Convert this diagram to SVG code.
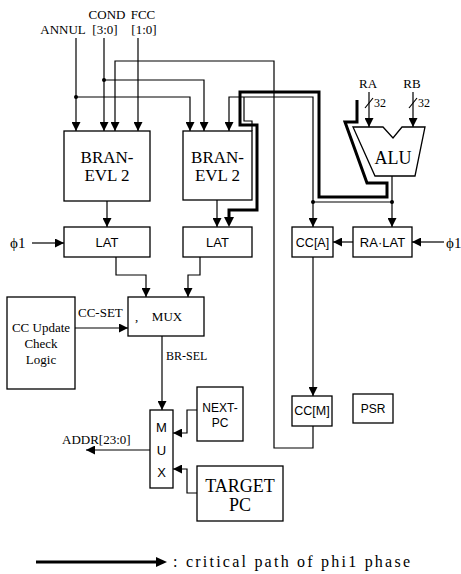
<svg xmlns="http://www.w3.org/2000/svg" width="461" height="574" viewBox="0 0 461 574">
<defs>
<marker id="ah" viewBox="0 0 10 10" refX="10" refY="5" markerWidth="10" markerHeight="9" markerUnits="userSpaceOnUse" orient="auto"><path d="M0,0 L10,5 L0,10 z" fill="#000"/></marker>
</defs>
<style>
.box{fill:#fff;stroke:#000;stroke-width:1.3}
.ln{fill:none;stroke:#000;stroke-width:1.2}
.arr{marker-end:url(#ah)}
.thick{fill:none;stroke:#000;stroke-width:3;stroke-linejoin:miter}
.dot{fill:#000}
.sf{font-family:"Liberation Serif","Times New Roman",serif;fill:#000}
.ss{font-family:"Liberation Sans",Arial,sans-serif;fill:#000}
.c{text-anchor:middle}
</style>
<rect width="461" height="574" fill="#fff"/>

<g id="connectors">
  <path class="ln arr" d="M76,38 V131"/>
  <path class="ln arr" d="M76,97 H190 V131"/>
  <path class="ln arr" d="M104,38 V131"/>
  <path class="ln arr" d="M104,80 H204 V131"/>
  <path class="ln arr" d="M138,38 V131"/>
  <path class="ln arr" d="M313,426 V448 H274 V61 H115 V131"/>
  <path class="ln arr" d="M313,202 V97 H229 V131"/>
  <path class="ln" d="M392,176 V202 M313,202 H392"/>
  <path class="ln arr" d="M313,202 V227"/>
  <path class="ln arr" d="M392,202 V227"/>
  <path class="ln" d="M244,97 V121 H252 V131"/>
  <path class="thick" d="M357,100 V122 H345 L367,183 H387 V197 H319 V92 H240 V125 H257 V210 H229 V218"/>
  <path d="M224,217 L229,227 L234,217 Z" fill="#000"/>
  <path class="ln arr" d="M107,201 V227"/>
  <path class="ln arr" d="M217,200 V227"/>
  <path class="ln arr" d="M116,257 V275 H146 V297"/>
  <path class="ln arr" d="M200,257 V275 H188 V297"/>
  <path class="ln arr" d="M32,243 H64"/>
  <path class="ln arr" d="M444,242 H412"/>
  <path class="ln arr" d="M353,242 H333"/>
  <path class="ln arr" d="M313,257 V396"/>
  <path class="ln arr" d="M75,328 H128"/>
  <path class="ln arr" d="M162,336 V410"/>
  <path class="ln arr" d="M197,410 H187 V433 H173"/>
  <path class="ln arr" d="M197,493 H187 V469 H173"/>
  <path class="ln arr" d="M150,450 H86"/>
  <path class="ln arr" d="M369,92 V127"/>
  <path class="ln arr" d="M413,92 V127"/>
  <path class="ln" d="M365,108 L373,98 M409,108 L417,98"/>
  <circle class="dot" cx="76" cy="97" r="2"/>
  <circle class="dot" cx="104" cy="80" r="2"/>
  <circle class="dot" cx="313" cy="202" r="2"/>
  <circle class="dot" cx="392" cy="202" r="2"/>
</g>

<g id="labels-top">
  <text class="sf c" x="107" y="19" font-size="13">COND</text>
  <text class="sf c" x="143" y="19" font-size="13">FCC</text>
  <text class="sf c" x="63" y="34" font-size="13">ANNUL</text>
  <text class="sf c" x="105" y="34" font-size="13">[3:0]</text>
  <text class="sf c" x="144" y="34" font-size="13">[1:0]</text>
  <text class="sf c" x="368" y="88" font-size="13">RA</text>
  <text class="sf c" x="412" y="88" font-size="13">RB</text>
  <text class="sf" x="374" y="107" font-size="12">32</text>
  <text class="sf" x="418" y="107" font-size="12">32</text>
</g>

<g id="bran1">
  <rect class="box" x="64" y="131" width="86" height="70"/>
  <text class="sf c" x="107" y="163" font-size="17">BRAN-</text>
  <text class="sf c" x="107" y="181" font-size="17">EVL 2</text>
</g>
<g id="bran2">
  <rect class="box" x="183" y="131" width="69" height="69"/>
  <text class="sf c" x="217.5" y="163" font-size="17">BRAN-</text>
  <text class="sf c" x="217.5" y="181" font-size="17">EVL 2</text>
</g>
<g id="alu">
  <path class="box" d="M353,127 H383 L393,138 L402,127 H425 L415,176 H375 Z"/>
  <text class="sf c" x="393" y="164" font-size="18">ALU</text>
</g>
<g id="lat1">
  <rect class="box" x="64" y="227" width="86" height="30"/>
  <text class="ss c" x="107" y="247" font-size="13">LAT</text>
</g>
<g id="lat2">
  <rect class="box" x="183" y="227" width="69" height="30"/>
  <text class="ss c" x="217.5" y="247" font-size="13">LAT</text>
</g>
<g id="phi-left">
  <text class="sf" x="10" y="248" font-size="15">ϕ1</text>
</g>
<g id="cca">
  <rect class="box" x="292" y="227" width="41" height="30"/>
  <text class="ss c" x="312.5" y="247" font-size="12.5">CC[A]</text>
</g>
<g id="ralat">
  <rect class="box" x="353" y="227" width="59" height="30"/>
  <text class="ss c" x="382.5" y="247" font-size="13">RA·LAT</text>
</g>
<g id="phi-right">
  <text class="sf" x="446" y="248" font-size="15">ϕ1</text>
</g>
<g id="mux">
  <rect class="box" x="128" y="297" width="76" height="39"/>
  <text class="sf" x="135" y="321" font-size="13">,</text>
  <text class="sf c" x="167" y="321" font-size="13">MUX</text>
</g>
<g id="ccupdate">
  <rect class="box" x="7" y="297" width="68" height="92"/>
  <text class="sf c" x="41" y="332" font-size="13">CC Update</text>
  <text class="sf c" x="41" y="348" font-size="13">Check</text>
  <text class="sf c" x="41" y="364" font-size="13">Logic</text>
</g>
<g id="conn-labels">
  <text class="sf" x="78" y="317" font-size="13">CC-SET</text>
  <text class="sf" x="166" y="360" font-size="12">BR-SEL</text>
  <text class="sf" x="62" y="444" font-size="13">ADDR[23:0]</text>
</g>
<g id="mux2">
  <rect class="box" x="150" y="410" width="23" height="78"/>
  <text class="ss c" x="161.5" y="432" font-size="13">M</text>
  <text class="ss c" x="161.5" y="455" font-size="13">U</text>
  <text class="ss c" x="161.5" y="477" font-size="13">X</text>
</g>
<g id="nextpc">
  <rect class="box" x="197" y="387" width="46" height="54"/>
  <text class="ss c" x="220" y="412" font-size="12">NEXT-</text>
  <text class="ss c" x="220" y="427" font-size="12">PC</text>
</g>
<g id="targetpc">
  <rect class="box" x="197" y="466" width="86" height="55"/>
  <text class="sf c" x="240" y="492" font-size="18">TARGET</text>
  <text class="sf c" x="240" y="511" font-size="18">PC</text>
</g>
<g id="ccm">
  <rect class="box" x="292" y="396" width="40" height="30"/>
  <text class="ss c" x="312" y="415" font-size="12.5">CC[M]</text>
</g>
<g id="psr">
  <rect class="box" x="353" y="394" width="40" height="29"/>
  <text class="ss c" x="373" y="413" font-size="12">PSR</text>
</g>
<g id="legend">
  <path d="M36,562 H158" fill="none" stroke="#000" stroke-width="3"/>
  <path d="M156,557 L167,562 L156,567 Z" fill="#000"/>
  <text class="sf" x="173" y="567" font-size="16" textLength="237" lengthAdjust="spacing">: critical path of phi1 phase</text>
</g>
</svg>
